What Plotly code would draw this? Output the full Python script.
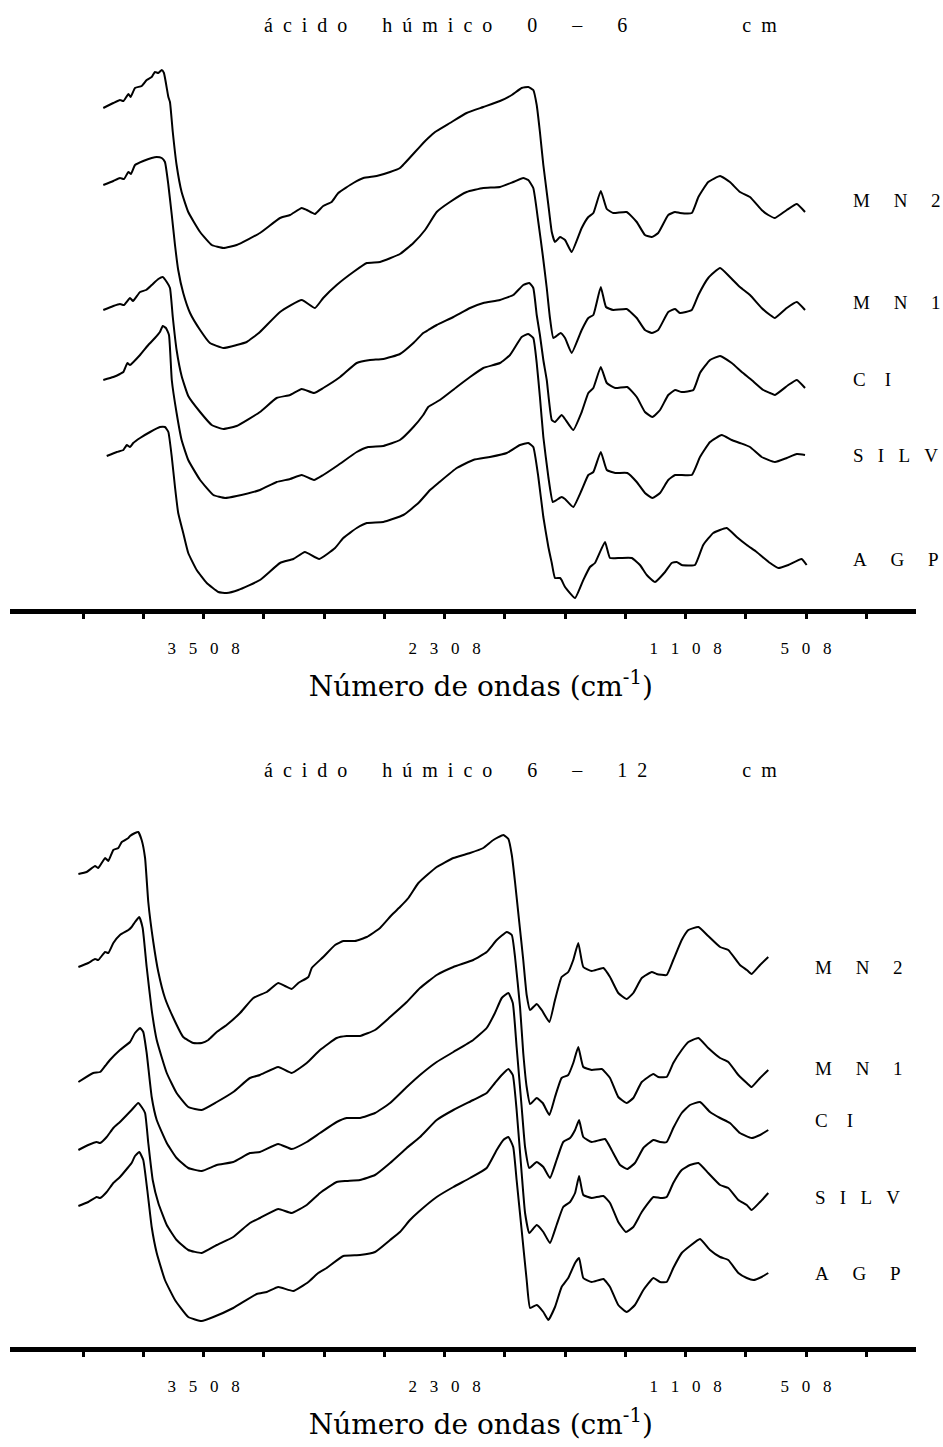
import plotly.graph_objects as go

# ---------------- data (wavenumber cm-1, relative absorbance, arbitrary units) -------------
# Panel 1: acido humico 0-6 cm
wn_top_MN2 = [4007,3957,3924,3907,3882,3871,3849,3816,3791,3766,3750,3733,3716,3705,3683,3675,3661,3642,3617,3584,
              3525,3467,3409,3343,3227,3127,3077,3019,2994,2953,2912,2870,2837,2762,2712,2646,2579,2530,2455,2414,
              2389,2355,2281,2198,2115,2032,1973,1924,1891,1866,1849,1833,1816,1791,1774,1758,1733,1708,1675,1625,
              1592,1567,1530,1500,1468,1401,1351,1310,1276,1244,1194,1160,1136,1077,1044,995,936,887,837,787,
              729,696,663,604,554,513]
ab_top_MN2 = [5.03,5.08,5.11,5.10,5.17,5.14,5.23,5.25,5.31,5.34,5.39,5.38,5.41,5.38,5.14,5.09,4.79,4.46,4.19,3.99,
              3.79,3.66,3.63,3.66,3.78,3.93,3.96,4.03,4.01,3.97,4.05,4.09,4.18,4.28,4.33,4.35,4.39,4.43,4.59,4.68,
              4.73,4.79,4.88,4.98,5.04,5.10,5.16,5.23,5.24,5.21,5.06,4.79,4.46,4.06,3.79,3.69,3.74,3.71,3.59,3.83,
              3.94,3.98,4.20,4.02,3.98,3.99,3.89,3.76,3.74,3.78,3.96,3.99,3.98,3.98,4.14,4.29,4.35,4.29,4.19,4.14,
              4.01,3.96,3.93,4.01,4.07,3.99]

wn_top_MN1 = [4007,3957,3924,3904,3882,3869,3849,3808,3766,3741,3716,3700,3683,3666,3650,3634,3609,3575,3525,3476,
              3409,3343,3293,3227,3127,3019,2953,2912,2845,2762,2695,2629,2530,2463,2405,2347,2281,2198,2115,2032,
              1966,1916,1891,1866,1841,1819,1799,1783,1766,1730,1708,1675,1625,1592,1567,1530,1504,1468,1401,1351,
              1310,1276,1244,1194,1160,1136,1077,1044,995,936,887,837,787,729,687,663,604,554,513]
ab_top_MN1 = [4.26,4.30,4.33,4.32,4.39,4.37,4.46,4.50,4.53,4.54,4.53,4.49,4.26,3.96,3.66,3.41,3.18,2.98,2.81,2.68,
              2.63,2.66,2.69,2.79,2.99,3.11,3.03,3.13,3.26,3.39,3.48,3.49,3.57,3.68,3.81,3.99,4.09,4.19,4.23,4.24,
              4.29,4.33,4.31,4.23,3.89,3.56,3.23,2.93,2.73,2.78,2.73,2.58,2.81,2.93,2.96,3.24,3.04,3.01,3.02,2.93,
              2.81,2.78,2.81,2.99,3.02,2.98,3.01,3.16,3.33,3.43,3.34,3.24,3.16,3.03,2.96,2.93,3.03,3.09,3.01]

wn_top_CI = [4007,3957,3924,3904,3874,3859,3824,3794,3766,3733,3711,3691,3675,3661,3642,3617,3584,3525,3467,3409,
             3343,3227,3144,3077,3019,2958,2912,2828,2745,2679,2613,2530,2463,2414,2389,2347,2264,2181,2115,2032,
             1966,1916,1886,1866,1849,1833,1816,1799,1774,1758,1725,1708,1667,1625,1592,1567,1530,1500,1458,1398,
             1351,1310,1273,1235,1194,1160,1127,1069,1036,986,936,878,828,779,721,687,663,596,554,513]
ab_top_CI = [3.01,3.05,3.07,3.06,3.13,3.10,3.19,3.21,3.26,3.32,3.34,3.29,3.23,2.94,2.61,2.35,2.15,1.99,1.86,1.82,
             1.85,1.99,2.13,2.16,2.22,2.18,2.23,2.34,2.48,2.51,2.52,2.57,2.68,2.78,2.81,2.86,2.94,3.03,3.08,3.11,
             3.16,3.26,3.28,3.23,2.96,2.76,2.51,2.31,1.91,1.89,1.96,1.92,1.81,1.99,2.18,2.23,2.44,2.28,2.23,2.24,
             2.14,1.99,1.94,2.01,2.16,2.21,2.19,2.21,2.38,2.51,2.55,2.48,2.39,2.31,2.21,2.18,2.16,2.26,2.31,2.23]

wn_top_SILV = [4007,3957,3924,3907,3887,3874,3824,3783,3750,3725,3711,3695,3680,3666,3642,3617,3584,3525,3459,3401,
               3343,3227,3144,3077,3019,2958,2912,2837,2745,2688,2613,2530,2463,2414,2389,2331,2247,2181,2115,2032,
               1982,1924,1891,1866,1849,1833,1816,1791,1769,1750,1725,1708,1667,1625,1592,1567,1530,1500,1458,1398,
               1351,1310,1273,1235,1194,1160,1077,1036,986,928,878,837,787,729,663,604,554,513]
ab_top_SILV = [2.31,2.34,2.37,2.39,2.48,2.46,2.56,2.66,2.73,2.79,2.85,2.83,2.76,2.31,1.98,1.71,1.51,1.31,1.16,1.13,
               1.15,1.21,1.29,1.32,1.36,1.31,1.36,1.46,1.59,1.64,1.65,1.71,1.84,1.96,2.04,2.11,2.24,2.34,2.43,2.48,
               2.56,2.74,2.77,2.73,2.48,2.14,1.74,1.34,1.09,1.11,1.14,1.12,1.04,1.21,1.36,1.39,1.59,1.41,1.38,1.38,
               1.29,1.18,1.13,1.18,1.31,1.36,1.36,1.54,1.69,1.76,1.71,1.68,1.64,1.54,1.49,1.53,1.57,1.56]

wn_top_AGP = [3990,3940,3907,3890,3874,3858,3824,3774,3725,3700,3683,3666,3650,3634,3609,3584,3542,3492,3434,3393,
              3335,3227,3127,3061,3003,2932,2853,2812,2745,2695,2613,2513,2438,2380,2339,2247,2165,2082,1998,1932,
              1891,1866,1841,1816,1791,1774,1758,1733,1725,1708,1658,1617,1584,1559,1509,1484,1434,1376,1335,1301,
              1260,1210,1177,1152,1127,1061,1020,970,903,853,803,754,687,646,596,530,505]
ab_top_AGP = [1.55,1.59,1.61,1.66,1.64,1.68,1.73,1.79,1.84,1.84,1.79,1.54,1.24,0.98,0.78,0.58,0.41,0.28,0.19,0.18,
              0.21,0.31,0.48,0.52,0.59,0.52,0.63,0.73,0.83,0.88,0.89,0.96,1.08,1.21,1.28,1.43,1.51,1.54,1.58,1.66,
              1.68,1.64,1.34,0.94,0.64,0.48,0.33,0.33,0.31,0.24,0.13,0.31,0.44,0.48,0.69,0.53,0.53,0.53,0.46,0.36,
              0.29,0.39,0.48,0.49,0.46,0.46,0.66,0.78,0.83,0.74,0.66,0.59,0.48,0.43,0.46,0.52,0.46]

# Panel 2: acido humico 6-12 cm
wn_bot_MN2 = [4131,4090,4048,4032,3998,3982,3957,3932,3915,3882,3874,3849,3833,3816,3799,3783,3758,3733,3700,3658,
              3609,3559,3517,3484,3442,3393,3326,3260,3193,3136,3102,3069,3036,2986,2969,2912,2853,2812,2754,2695,
              2629,2571,2530,2488,2438,2347,2264,2181,2115,2065,2015,1990,1973,1957,1936,1916,1899,1882,1849,1824,
              1786,1758,1725,1692,1667,1642,1617,1575,1517,1484,1443,1401,1368,1326,1276,1252,1202,1169,1127,1094,
              1044,995,936,895,837,803,779,737,696]
ab_bot_MN2 = [4.75,4.77,4.83,4.81,4.91,4.88,4.99,5.01,5.07,5.11,5.13,5.16,5.17,5.09,4.91,4.47,4.07,3.77,3.51,3.31,
              3.12,3.06,3.06,3.09,3.17,3.24,3.36,3.51,3.57,3.66,3.63,3.60,3.66,3.72,3.81,3.92,4.04,4.08,4.08,4.12,
              4.21,4.34,4.42,4.51,4.66,4.82,4.91,4.96,5.01,5.09,5.14,5.10,4.94,4.67,4.27,3.89,3.54,3.39,3.45,3.39,
              3.27,3.49,3.72,3.77,3.89,4.06,3.82,3.78,3.81,3.72,3.56,3.50,3.56,3.71,3.77,3.75,3.74,3.89,4.09,4.19,
              4.22,4.13,4.02,3.99,3.84,3.79,3.75,3.84,3.92]

wn_bot_MN1 = [4131,4082,4048,4032,3998,3982,3957,3924,3882,3866,3849,3828,3811,3791,3766,3741,3691,3642,3584,3517,
              3442,3360,3277,3227,3136,3069,2994,2928,2845,2795,2729,2654,2579,2496,2430,2347,2264,2165,2098,2048,
              1998,1973,1957,1932,1916,1899,1882,1849,1819,1786,1758,1725,1692,1667,1642,1617,1575,1525,1484,1443,
              1401,1368,1326,1268,1244,1202,1169,1127,1094,1044,995,936,895,845,803,779,737,696]
ab_bot_MN1 = [3.82,3.86,3.90,3.89,3.97,3.96,4.06,4.14,4.19,4.22,4.27,4.32,4.21,3.82,3.39,3.09,2.76,2.56,2.42,2.39,
              2.47,2.57,2.71,2.74,2.82,2.76,2.86,2.99,3.11,3.13,3.13,3.19,3.32,3.47,3.61,3.74,3.82,3.89,3.97,4.09,
              4.17,4.14,3.92,3.42,2.96,2.62,2.45,2.51,2.46,2.34,2.52,2.71,2.74,2.86,3.02,2.82,2.79,2.80,2.71,2.52,
              2.46,2.51,2.67,2.75,2.72,2.72,2.86,2.99,3.07,3.11,3.01,2.91,2.87,2.74,2.66,2.62,2.71,2.79]

wn_bot_CI = [4131,4057,4023,3998,3974,3924,3874,3849,3824,3808,3791,3766,3741,3691,3642,3584,3517,3442,3360,3277,
             3227,3136,3069,2994,2928,2845,2795,2729,2654,2579,2496,2430,2347,2264,2165,2098,2057,2023,1990,1968,
             1949,1924,1907,1886,1849,1816,1783,1750,1717,1683,1658,1638,1617,1575,1509,1476,1434,1398,1360,1318,
             1268,1235,1202,1169,1127,1086,1036,986,936,887,837,779,737,696]
ab_bot_CI = [2.67,2.76,2.77,2.83,2.89,2.99,3.07,3.16,3.21,3.17,2.96,2.52,2.29,2.06,1.91,1.81,1.78,1.84,1.87,1.96,
             1.97,2.05,2.00,2.07,2.16,2.27,2.31,2.31,2.36,2.46,2.62,2.74,2.87,2.97,3.09,3.21,3.36,3.51,3.56,3.46,
             3.02,2.42,2.02,1.81,1.87,1.82,1.71,1.89,2.07,2.11,2.19,2.29,2.12,2.07,2.10,1.99,1.84,1.80,1.86,2.01,
             2.09,2.07,2.07,2.21,2.36,2.44,2.47,2.37,2.31,2.26,2.16,2.11,2.14,2.19]

wn_bot_SILV = [4131,4082,4040,4023,3990,3957,3924,3890,3866,3833,3816,3799,3783,3761,3733,3691,3642,3584,3517,3442,
               3360,3277,3227,3136,3069,2994,2928,2845,2795,2729,2654,2579,2496,2430,2347,2264,2165,2098,2057,2023,
               1990,1968,1949,1924,1907,1886,1849,1816,1783,1750,1717,1683,1658,1638,1617,1575,1517,1484,1443,1405,
               1368,1326,1268,1235,1202,1169,1127,1086,1044,995,936,895,845,803,779,737,696]
ab_bot_SILV = [1.99,2.04,2.07,2.06,2.12,2.21,2.27,2.34,2.39,2.46,2.42,2.36,2.06,1.69,1.46,1.24,1.09,0.99,0.96,1.04,
               1.12,1.26,1.31,1.40,1.36,1.44,1.56,1.67,1.68,1.69,1.74,1.86,2.01,2.12,2.29,2.39,2.49,2.56,2.66,2.74,
               2.80,2.74,2.39,1.76,1.36,1.16,1.24,1.17,1.06,1.24,1.42,1.47,1.56,1.73,1.54,1.51,1.53,1.46,1.27,1.17,
               1.22,1.37,1.52,1.51,1.52,1.66,1.79,1.84,1.86,1.76,1.64,1.61,1.49,1.44,1.39,1.47,1.56]

wn_bot_AGP = [4131,4082,4040,4023,3990,3957,3924,3882,3866,3849,3828,3808,3788,3766,3741,3700,3650,3584,3517,3459,
              3360,3243,3193,3136,3061,2986,2937,2895,2812,2729,2654,2579,2530,2480,2438,2347,2264,2181,2098,2048,
              2015,1990,1966,1949,1924,1899,1882,1849,1816,1791,1758,1725,1692,1658,1638,1617,1575,1517,1484,1443,
              1401,1360,1318,1268,1235,1202,1169,1127,1086,1036,986,936,895,845,803,770,729,696]
ab_bot_AGP = [1.43,1.47,1.52,1.51,1.57,1.66,1.72,1.82,1.86,1.93,1.97,1.89,1.59,1.22,0.96,0.69,0.49,0.32,0.28,0.32,
              0.41,0.55,0.57,0.62,0.58,0.67,0.76,0.81,0.93,0.94,0.97,1.09,1.17,1.29,1.37,1.52,1.62,1.71,1.81,1.99,
              2.09,2.12,2.02,1.69,1.19,0.69,0.41,0.44,0.37,0.29,0.42,0.62,0.71,0.86,0.91,0.71,0.67,0.70,0.62,0.44,
              0.37,0.44,0.59,0.71,0.67,0.67,0.81,0.96,1.03,1.10,0.99,0.92,0.89,0.76,0.71,0.69,0.72,0.76]

samples = ["MN2", "MN1", "CI", "SILV", "AGP"]
panel_titles = [("ácido húmico 0 – 6", "cm"), ("ácido húmico 6 – 12", "cm")]
labelled_ticks = [3508, 2308, 1108, 508]
all_ticks = [4108, 3808, 3508, 3208, 2908, 2608, 2308, 2008, 1708, 1408, 1108, 808, 508, 208]
axis_title = "Número de ondas (cm<sup>-1</sup>)"

top_series = {"MN2": (wn_top_MN2, ab_top_MN2), "MN1": (wn_top_MN1, ab_top_MN1), "CI": (wn_top_CI, ab_top_CI),
              "SILV": (wn_top_SILV, ab_top_SILV), "AGP": (wn_top_AGP, ab_top_AGP)}
bot_series = {"MN2": (wn_bot_MN2, ab_bot_MN2), "MN1": (wn_bot_MN1, ab_bot_MN1), "CI": (wn_bot_CI, ab_bot_CI),
              "SILV": (wn_bot_SILV, ab_bot_SILV), "AGP": (wn_bot_AGP, ab_bot_AGP)}
for d in (top_series, bot_series):
    for k, (a, b) in d.items():
        assert len(a) == len(b), (k, len(a), len(b))

# ---------------- figure -------------
W, H = 943, 1447
NB = "\u00a0"
ZW = "\u200b"


def spaced(text, letter_gap, word_gap):
    return (NB * word_gap).join((NB * letter_gap).join(list(w)) for w in text.split(" "))


fig = go.Figure()
for series, xa, ya in ((top_series, "x", "y"), (bot_series, "x2", "y2")):
    for name in samples:
        wn, ab = series[name]
        fig.add_trace(go.Scatter(x=wn, y=ab, mode="lines", name=name, xaxis=xa, yaxis=ya,
                                 line=dict(color="black", width=2, shape="spline", smoothing=0.4),
                                 showlegend=False, hoverinfo="skip"))

serif = "Liberation Serif, Times New Roman, serif"
tick_text = [spaced(str(v), 3, 3) for v in labelled_ticks]
minor_ticks = [v for v in all_ticks if v not in labelled_ticks]
x_dom = [10 / W, 916 / W]
x_rng = [4471.5, -39.5]


def xaxis_cfg(anchor):
    return dict(domain=x_dom, range=x_rng, anchor=anchor, showgrid=False, zeroline=False,
                showline=True, linecolor="black", linewidth=4.5,
                tickmode="array", tickvals=labelled_ticks, ticktext=tick_text,
                ticks="outside", ticklen=5, tickwidth=2.5, tickcolor="black",
                minor=dict(tickmode="array", tickvals=minor_ticks, ticks="outside",
                           ticklen=5, tickwidth=2.5, tickcolor="black", showgrid=False),
                ticklabelstandoff=15,
                tickfont=dict(family=serif, size=17, color="black"),
                title=dict(text=ZW + NB * 4 + axis_title, standoff=21,
                           font=dict(family="DejaVu Serif, serif", size=28, color="black")))


fig.update_layout(
    width=W, height=H, autosize=False,
    margin=dict(l=0, r=0, t=0, b=0),
    paper_bgcolor="white", plot_bgcolor="white",
    xaxis=xaxis_cfg("y"),
    xaxis2=xaxis_cfg("y2"),
    yaxis=dict(domain=[1 - 609 / H, 1 - 35 / H], range=[0.02, 5.76], visible=False),
    yaxis2=dict(domain=[1 - 1347 / H, 1 - 790 / H], range=[0.02, 5.59], visible=False),
)

# sample labels at the right of each stack
label_gap = {"MN2": 5, "MN1": 5, "CI": 4, "SILV": 3, "AGP": 5}
label_text = {"MN2": "M N 2", "MN1": "M N 1", "CI": "C I", "SILV": "S I L V", "AGP": "A G P"}
top_label_y = {"MN2": 4.10, "MN1": 3.08, "CI": 2.31, "SILV": 1.55, "AGP": 0.52}
bot_label_y = {"MN2": 3.82, "MN1": 2.81, "CI": 2.29, "SILV": 1.52, "AGP": 0.76}
for xref, yref, xpos, ys in (("x", "y", 284, top_label_y), ("x2", "y2", 473, bot_label_y)):
    for name in samples:
        txt = (NB * label_gap[name]).join(label_text[name].split(" "))
        fig.add_annotation(x=xpos, y=ys[name], xref=xref, yref=yref, text=txt, showarrow=False,
                           xanchor="left", yanchor="middle",
                           font=dict(family=serif, size=19, color="black"))

# panel titles (letter-spaced, unit set apart as in the original)
for (main, unit), ypx, unit_gap in zip(panel_titles, (25, 770), (23, 19)):
    txt = spaced(main, 2, 7) + NB * unit_gap + spaced(unit, 2, 2)
    fig.add_annotation(x=262 / W, y=1 - ypx / H, xref="paper", yref="paper",
                       text=txt, showarrow=False, xanchor="left", yanchor="middle",
                       font=dict(family=serif, size=20, color="black"))

fig.write_html("out.html", config={"displayModeBar": False})
